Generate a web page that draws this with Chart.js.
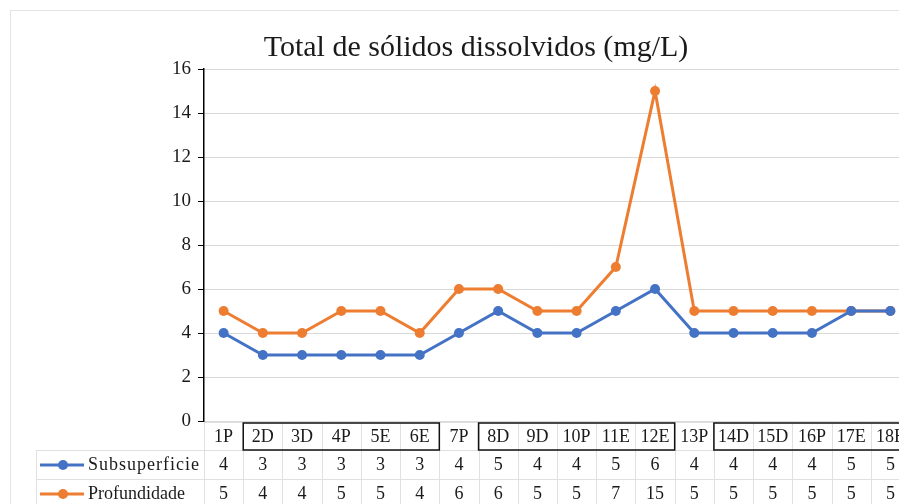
<!DOCTYPE html>
<html>
<head>
<meta charset="utf-8">
<script src="https://cdn.jsdelivr.net/npm/chart.js@4"></script>
<style>
  html, body { margin: 0; padding: 0; background: #fff; overflow: hidden; }
  #wrap { width: 899px; height: 504px; overflow: hidden; }
</style>
</head>
<body>
<div id="wrap"><canvas id="c" width="920" height="504"></canvas></div>
<script>
const categories = ['1P', '2D', '3D', '4P', '5E', '6E', '7P', '8D', '9D', '10P', '11E', '12E', '13P', '14D', '15D', '16P', '17E', '18E'];
const subsuperficie = [4, 3, 3, 3, 3, 3, 4, 5, 4, 4, 5, 6, 4, 4, 4, 4, 5, 5];
const profundidade = [5, 4, 4, 5, 5, 4, 6, 6, 5, 5, 7, 15, 5, 5, 5, 5, 5, 5];
const yTicks = [0, 2, 4, 6, 8, 10, 12, 14, 16];
// groups of categories boxed in the table header (first, last index)
const boxedGroups = [[1, 5], [7, 11], [13, 17]];

const SERIF = '"Liberation Serif", "Times New Roman", serif';
const BLUE = '#4472C4';
const ORANGE = '#ED7D31';

const tablePlugin = {
  id: 'tablePlugin',
  beforeDraw(chart) {
    const ctx = chart.ctx;
    ctx.save();
    ctx.fillStyle = '#fff';
    ctx.fillRect(0, 0, chart.width, chart.height);
    ctx.strokeStyle = '#e3e3e3';
    ctx.lineWidth = 1;
    ctx.strokeRect(10.5, 10.5, chart.width, chart.height);
    ctx.fillStyle = '#1a1a1a';
    ctx.font = '30px ' + SERIF;
    ctx.textAlign = 'center';
    ctx.textBaseline = 'alphabetic';
    ctx.fillText('Total de sólidos dissolvidos (mg/L)', 476, 56);
    ctx.restore();
  },
  afterDraw(chart) {
    const ctx = chart.ctx;
    const x = chart.scales.x;
    const area = chart.chartArea;
    const colW = (area.right - area.left) / categories.length;
    const top = area.bottom + 1;
    const r1 = 450, r2 = 479, bottom = 510;
    const legendLeft = 36;
    ctx.save();
    ctx.strokeStyle = '#e0e0e0';
    ctx.lineWidth = 1;
    ctx.beginPath();
    ctx.moveTo(area.left, top + 0.5); ctx.lineTo(area.right, top + 0.5);
    ctx.moveTo(legendLeft, r1 + 0.5); ctx.lineTo(area.right, r1 + 0.5);
    ctx.moveTo(legendLeft, r2 + 0.5); ctx.lineTo(area.right, r2 + 0.5);
    ctx.moveTo(legendLeft + 0.5, r1); ctx.lineTo(legendLeft + 0.5, bottom);
    for (let i = 0; i <= categories.length; i++) {
      const px = Math.round(area.left + i * colW) + 0.5;
      ctx.moveTo(px, top); ctx.lineTo(px, bottom);
    }
    ctx.stroke();

    ctx.fillStyle = '#1a1a1a';
    ctx.font = '18px ' + SERIF;
    ctx.textAlign = 'center';
    ctx.textBaseline = 'middle';
    categories.forEach((c, i) => {
      const cx = x.getPixelForValue(i);
      ctx.fillText(c, cx, 437);
      ctx.fillText(String(subsuperficie[i]), cx, 465);
      ctx.fillText(String(profundidade[i]), cx, 494);
    });

    ctx.strokeStyle = '#111';
    ctx.lineWidth = 1.5;
    boxedGroups.forEach(([a, b]) => {
      const x0 = area.left + a * colW;
      const x1 = area.left + (b + 1) * colW;
      ctx.strokeRect(x0, top + 1, x1 - x0, r1 - top - 1);
    });

    // legend keys
    const keys = [[BLUE, 'Subsuperficie', 465, '1px'], [ORANGE, 'Profundidade', 494, '0px']];
    keys.forEach(([col, label, cy, ls]) => {
      ctx.strokeStyle = col;
      ctx.lineWidth = 3;
      ctx.beginPath();
      ctx.moveTo(40, cy); ctx.lineTo(84, cy);
      ctx.stroke();
      ctx.fillStyle = col;
      ctx.beginPath();
      ctx.arc(63, cy, 5, 0, Math.PI * 2);
      ctx.fill();
      ctx.fillStyle = '#1a1a1a';
      ctx.textAlign = 'left';
      ctx.letterSpacing = ls;
      ctx.fillText(label, 88, cy);
      ctx.letterSpacing = '0px';
    });
    ctx.restore();
  }
};

new Chart(document.getElementById('c'), {
  type: 'line',
  data: {
    labels: categories,
    datasets: [
      { label: 'Subsuperficie', data: subsuperficie, borderColor: BLUE, backgroundColor: BLUE,
        borderWidth: 3, pointRadius: 5, pointBorderWidth: 0, tension: 0 },
      { label: 'Profundidade', data: profundidade, borderColor: ORANGE, backgroundColor: ORANGE,
        borderWidth: 3, pointRadius: 5, pointBorderWidth: 0, tension: 0 }
    ]
  },
  options: {
    responsive: false,
    animation: false,
    layout: { padding: { left: 0, right: 10, top: 69, bottom: 83 } },
    plugins: {
      legend: { display: false },
      title: { display: false },
      tooltip: { enabled: false }
    },
    scales: {
      x: {
        type: 'category',
        offset: true,
        display: false
      },
      y: {
        min: 0,
        max: 16,
        afterFit: (scale) => { scale.width = 204; },
        afterBuildTicks: (scale) => { scale.ticks = yTicks.map(v => ({ value: v })); },
        ticks: {
          color: '#1a1a1a',
          padding: 7,
          font: { family: SERIF, size: 19 }
        },
        grid: {
          color: '#d9d9d9',
          lineWidth: 1,
          drawTicks: true,
          tickLength: 6,
          tickColor: '#000'
        },
        border: { color: '#000', width: 1.5 }
      }
    }
  },
  plugins: [tablePlugin]
});
</script>
</body>
</html>
